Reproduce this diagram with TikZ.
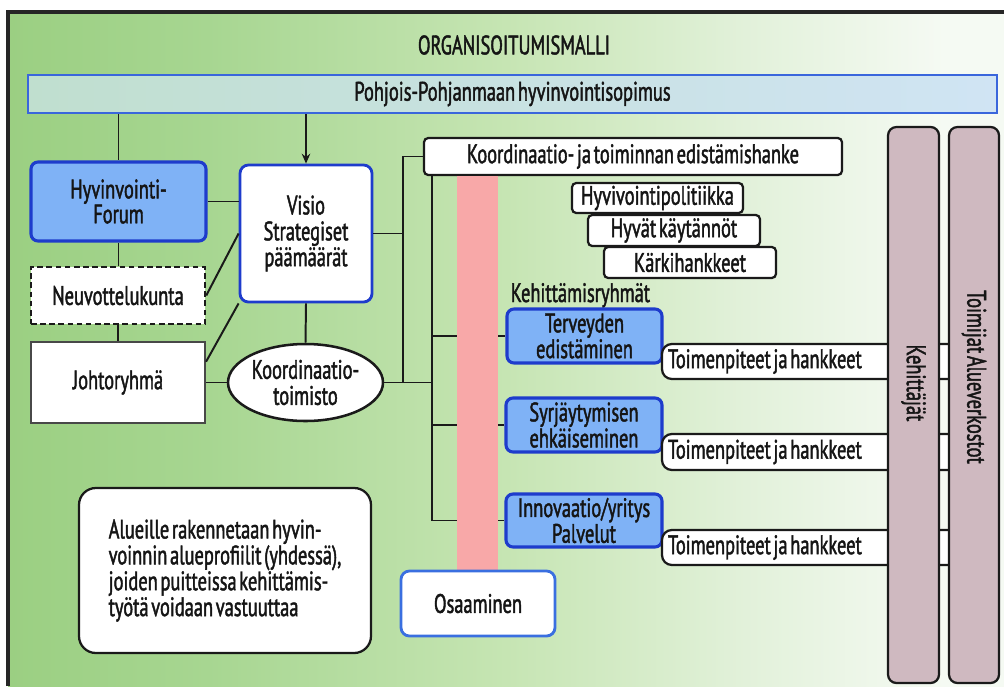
\documentclass[tikz,border=0pt]{standalone}
\usepackage{fontspec}
\setmainfont{PT Sans}[FakeStretch=0.69, WordSpace=0.55, FakeBold=1.6]
\usetikzlibrary{arrows.meta,shapes.geometric,calc}
\definecolor{bgA}{HTML}{9BCF82}
\definecolor{bgB}{HTML}{A7D691}
\definecolor{bgC}{HTML}{C6E5B3}
\definecolor{bgD}{HTML}{E2F1DA}
\definecolor{bgE}{HTML}{F5FAF3}
\definecolor{banA}{HTML}{C0DFCF}
\definecolor{banB}{HTML}{D0E4F4}
\definecolor{bannerln}{HTML}{3A66DC}
\definecolor{bluef}{HTML}{7FB2F6}
\definecolor{blueln}{HTML}{1E3CCC}
\definecolor{osaln}{HTML}{3A6FE0}
\definecolor{pinkc}{HTML}{F8A8A8}
\definecolor{barc}{HTML}{CFB9C0}
\definecolor{linec}{HTML}{1A1A1A}
\definecolor{txt}{HTML}{151515}
\pgfdeclarehorizontalshading{bgshade}{100bp}{color(0bp)=(bgA); color(25bp)=(bgA); color(35bp)=(bgB); color(50bp)=(bgC); color(62bp)=(bgD); color(72bp)=(bgE); color(100bp)=(bgE)}
\newcommand\pxu{0.025cm}
\newcommand\tptext{\hbox to 7.15cm{Toimenpiteet ja hankkeet\hfil}}
\tikzset{
  bx/.style 2 args={minimum width=#1*\pxu, minimum height=#2*\pxu},
  conn/.style={draw=linec, line width=1.4pt},
  base/.style={inner sep=1pt, align=center, text=txt},
  bluebox/.style={base, draw=blueln, fill=bluef, line width=2.2pt, rounded corners=5pt, font=\fontsize{19}{15}\selectfont},
  whitebl/.style={base, draw=blueln, fill=white, line width=2pt, rounded corners=6pt},
  blackbox/.style={base, draw=linec, fill=white, line width=1.6pt, rounded corners=3pt},
  tpbox/.style={blackbox, rounded corners=7pt},
  barbox/.style={draw=linec, fill=barc, line width=1.6pt, rounded corners=6pt, inner sep=0pt},
}
\begin{document}
\begin{tikzpicture}[x=\pxu, y=-\pxu, font=\fontsize{19}{18.4}\selectfont]
\useasboundingbox (0,0) rectangle (1004,686);
\fill[white] (0,0) rectangle (1004,686);
\shade[shading=bgshade] (8,12) rectangle (1004,686);
\draw[line width=2.2pt, draw=black!85] (8,686) -- (8,12) -- (1004,12);

\node[base] (title) at (514,45) {ORGANISOITUMISMALLI};
\node[base, draw=bannerln, line width=1.8pt, left color=banA, right color=banB, bx={969}{38}] (banner) at (512.5,94) {Pohjois-Pohjanmaan hyvinvointisopimus};

\node[bluebox, bx={175}{79}, font=\fontsize{19}{17.7}\selectfont] (forum) at (118.5,201.5) {Hyvinvointi-\\Forum};
\node[whitebl, bx={132}{137}] (visio) at (306,233.5) {Visio\\Strategiset\\päämäärät};
\node[base, draw=linec, fill=white, line width=1.8pt, dash pattern=on 4pt off 2.5pt, bx={174}{57}] (neuv) at (118,295.5) {Neuvottelukunta};
\node[base, draw=linec!80, fill=white, line width=1.5pt, bx={174}{81}] (johto) at (118,382.5) {Johtoryhmä};
\node[base, ellipse, draw=linec, fill=white, line width=1.8pt, bx={155}{77}, inner sep=0pt, font=\fontsize{19}{18.5}\selectfont] (koord) at (305.5,382.5) {Koordinaatio-\\toimisto};

\node[blackbox, bx={418}{37}] (hanke) at (633,156.5) {Koordinaatio- ja toiminnan edistämishanke};
\node[blackbox, bx={171}{30}] (hpol) at (657.5,198) {Hyvivointipolitiikka};
\node[blackbox, bx={172}{31}] (hkay) at (674,230.5) {Hyvät käytännöt};
\node[blackbox, bx={172}{31}] (kark) at (690,262.5) {Kärkihankkeet};
\node[base, anchor=base west] (kr) at (509,302) {Kehittämisryhmät};

\node[bluebox, bx={155}{54}] (terv) at (584.5,336) {Terveyden\\edistäminen};
\node[bluebox, bx={156}{54}] (syrj) at (584,425) {Syrjäytymisen\\ehkäiseminen};
\node[bluebox, bx={156}{53}] (innov) at (584,520.5) {Innovaatio/yritys\\Palvelut};

\node[blackbox, rounded corners=12pt, align=left, bx={292}{165}] (alue) at (225,570.5) {Alueille rakennetaan hyvin-\\voinnin alueprofiilit (yhdessä),\\joiden puitteissa kehittämis-\\työtä voidaan vastuuttaa};

% connectors
\coordinate (b1) at (403,300);
\coordinate (b2) at (432,300);
\draw[conn] (banner.south -| forum.north) -- (forum.north);
\draw[conn, -{Stealth[length=7pt,width=6pt]}] (banner.south -| visio.north) -- (visio.north);
\draw[conn] (forum.east) -- (forum.east -| visio.west);
\draw[conn] (forum.south) -- (forum.south |- neuv.north);
\draw[conn] (neuv.south) -- (neuv.south |- johto.north);
\draw[conn] (neuv.east) -- (visio.west);
\draw[conn] ($(johto.north east)!0.25!(johto.south east)$) -- (visio.south west);
\draw[conn] (johto.east) -- (koord.west);
\draw[conn] (visio.south) -- (koord.north);
\draw[conn] (visio.east) -- (visio.east -| b1);
\draw[conn] (hanke.west) -- (hanke.west -| b1) -- (b1 |- koord.east);
\draw[conn] (koord.east) -- (koord.east -| b2);
\draw[conn] (hanke.south -| b2) -- (b2 |- innov.west) -- (innov.west);
\draw[conn] (b2 |- terv.west) -- (terv.west);
\draw[conn] (b2 |- syrj.west) -- (syrj.west);

\node[fill=pinkc, inner sep=0pt, bx={41}{395}] (pink) at (477.5,373.5) {};
\node[whitebl, draw=osaln, bx={154}{65}] (osaa) at (478,603.5) {Osaaminen};

\node[tpbox, bx={298}{35}] (tp1) at (811,361.5) {\tptext};
\node[tpbox, bx={298}{36}] (tp2) at (811,452) {\tptext};
\node[tpbox, bx={298}{35}] (tp3) at (811,547.5) {\tptext};

\node[barbox, bx={51}{556}] (keh) at (913.5,405) {};
\node[barbox, bx={50}{556}] (toim) at (974,405) {};
\node[base, rotate=-90] (kehT) at (913.5,383) {Kehittäjät};
\node[base, rotate=-90] (toimT) at (974,377) {Toimijat Alueverkostot};
\end{tikzpicture}
\end{document}
